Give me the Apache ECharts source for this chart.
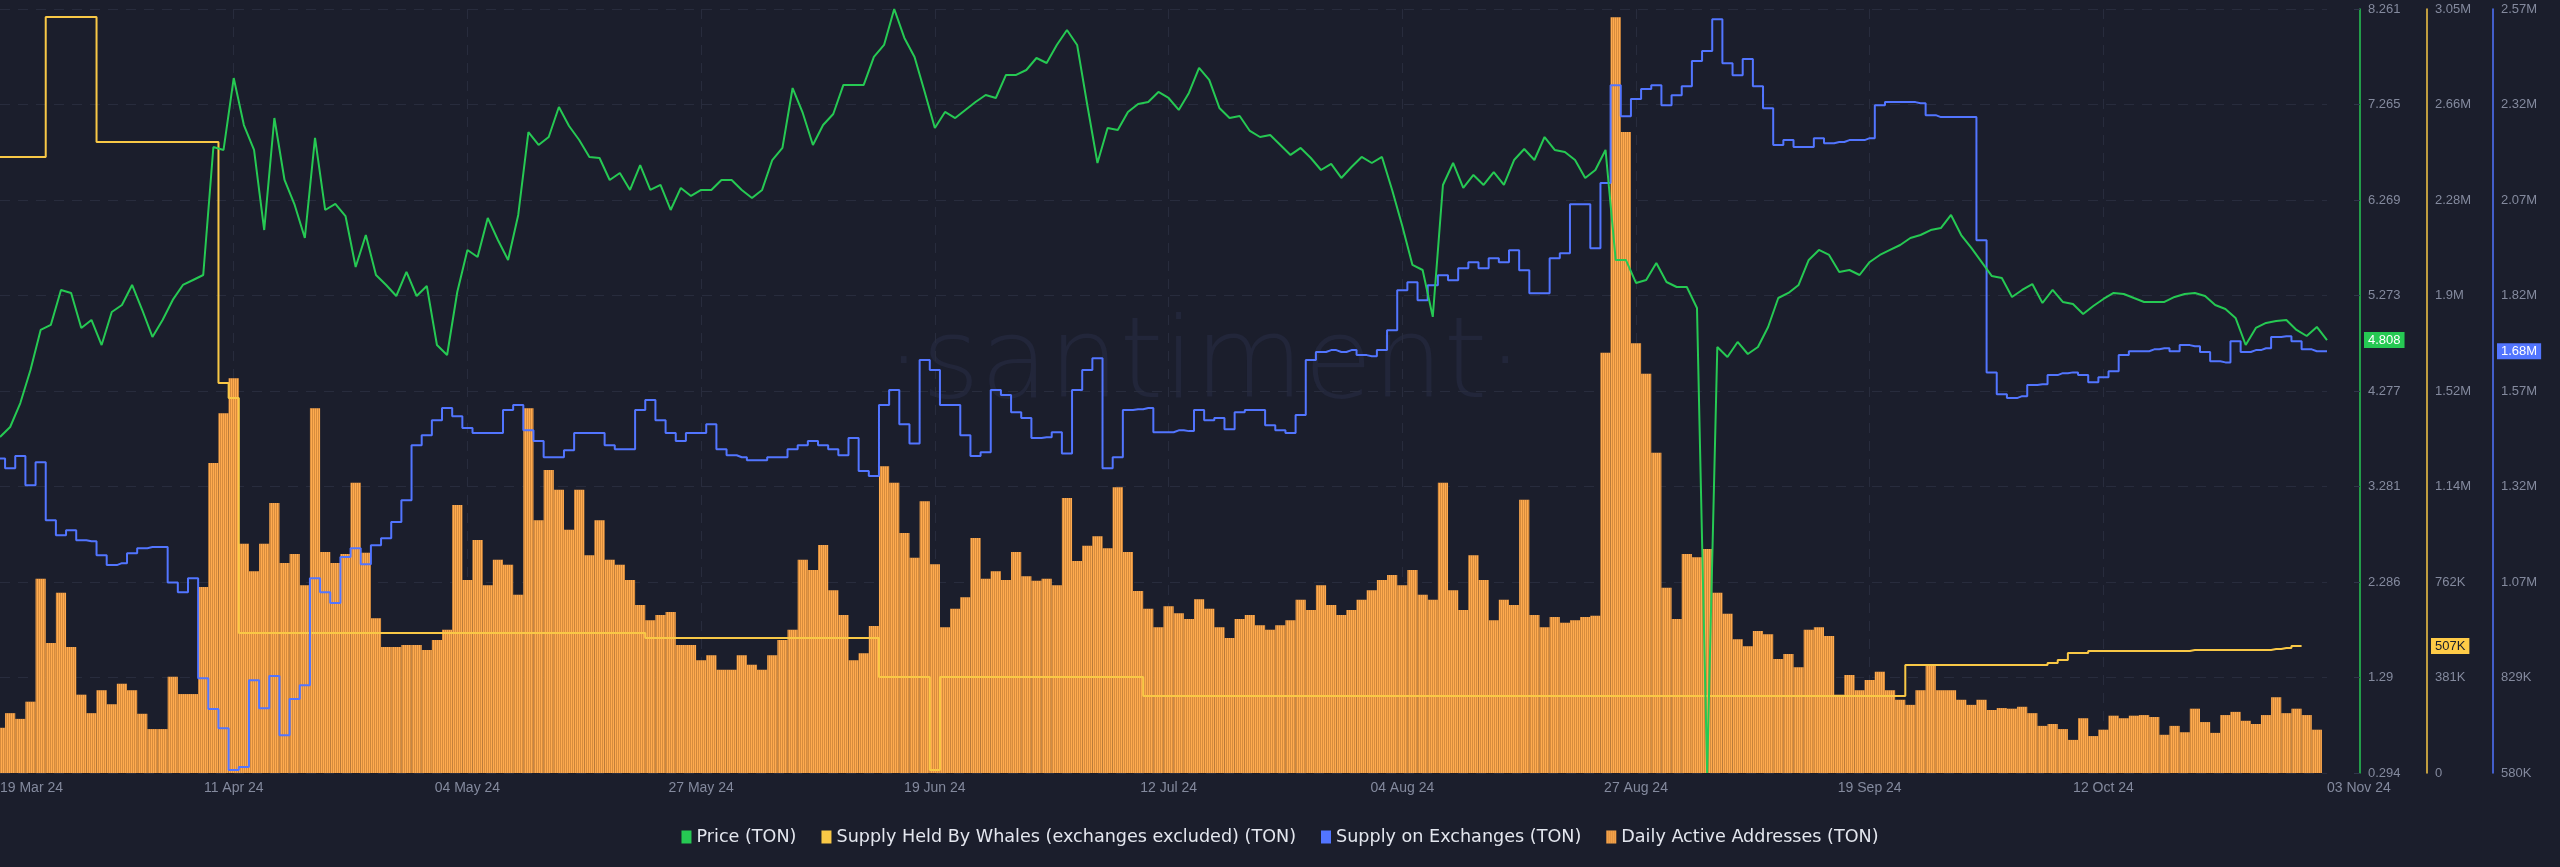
<!DOCTYPE html>
<html><head><meta charset="utf-8">
<script src="https://cdn.jsdelivr.net/npm/echarts@6/dist/echarts.min.js"></script>
<style>html,body{margin:0;padding:0;background:#1b1e2c;}#c{width:2560px;height:867px;}</style>
</head><body><div id="c"></div>
<script>
// ---------- DATA ----------
const startDate = [2024, 2, 19]; // 19 Mar 2024, one category per day
const dayCount = 230;
const xTickLabels = ['19 Mar 24','11 Apr 24','04 May 24','27 May 24','19 Jun 24','12 Jul 24','04 Aug 24','27 Aug 24','19 Sep 24','12 Oct 24','03 Nov 24'];

const priceTON = [
3.798,3.902,4.152,4.497,4.914,4.966,5.331,5.300,4.935,5.018,
4.757,5.101,5.174,5.383,5.122,4.841,5.018,5.227,5.383,5.435,
5.487,6.822,6.791,7.541,7.051,6.791,5.956,7.124,6.478,6.217,
5.873,6.916,6.165,6.228,6.102,5.571,5.904,5.487,5.383,5.268,
5.519,5.268,5.373,4.757,4.653,5.310,5.748,5.675,6.082,5.852,
5.644,6.113,6.978,6.843,6.926,7.239,7.041,6.895,6.718,6.707,
6.478,6.551,6.374,6.634,6.374,6.426,6.165,6.395,6.311,6.374,
6.374,6.478,6.478,6.374,6.290,6.374,6.686,6.812,7.437,7.177,
6.843,7.051,7.166,7.469,7.469,7.469,7.761,7.886,8.261,7.959,
7.761,7.396,7.020,7.187,7.124,7.208,7.291,7.364,7.333,7.573,
7.573,7.625,7.750,7.698,7.886,8.042,7.886,7.260,6.655,7.020,
6.999,7.187,7.270,7.291,7.396,7.333,7.208,7.385,7.646,7.521,
7.229,7.124,7.145,6.989,6.926,6.947,6.843,6.739,6.812,6.707,
6.582,6.645,6.499,6.613,6.718,6.655,6.718,6.374,5.998,5.592,
5.539,5.050,6.426,6.655,6.395,6.530,6.426,6.561,6.426,6.686,
6.801,6.686,6.926,6.791,6.770,6.686,6.499,6.582,6.791,5.644,
5.644,5.404,5.435,5.612,5.414,5.362,5.362,5.143,0.294,4.736,
4.632,4.789,4.663,4.736,4.945,5.247,5.300,5.383,5.644,5.748,
5.696,5.519,5.539,5.487,5.623,5.696,5.748,5.800,5.873,5.904,
5.956,5.977,6.113,5.904,5.769,5.623,5.477,5.456,5.258,5.331,
5.393,5.195,5.331,5.206,5.185,5.081,5.164,5.237,5.300,5.289,
5.247,5.206,5.206,5.206,5.258,5.289,5.300,5.268,5.174,5.133,
5.039,4.757,4.935,4.987,5.008,5.018,4.914,4.851,4.945,4.808];

const whalesSupplyK = [
2459,2459,2459,2459,2459,3018,3018,3018,3018,3018,
2519,2519,2519,2519,2519,2519,2519,2519,2519,2519,
2519,2519,1557,1497,559,559,559,559,559,559,
559,559,559,559,559,559,559,559,559,559,
559,559,559,559,559,559,559,559,559,559,
559,559,559,559,559,559,559,559,559,559,
559,559,559,559,539,539,539,539,539,539,
539,539,539,539,539,539,539,539,539,539,
539,539,539,539,539,539,539,383,383,383,
383,383,12,383,383,383,383,383,383,383,
383,383,383,383,383,383,383,383,383,383,
383,383,383,307,307,307,307,307,307,307,
307,307,307,307,307,307,307,307,307,307,
307,307,307,307,307,307,307,307,307,307,
307,307,307,307,307,307,307,307,307,307,
307,307,307,307,307,307,307,307,307,307,
307,307,307,307,307,307,307,307,307,307,
307,307,307,307,307,307,307,307,307,307,
307,307,307,307,307,307,307,307,431,431,
431,431,431,431,431,431,431,431,431,431,
431,431,439,451,479,479,487,487,487,487,
487,487,487,487,487,487,491,491,491,491,
491,491,491,491,495,499,507,null,null,null];

const exchangeSupplyK = [
1400,1374,1406,1330,1390,1239,1200,1213,1187,1184,
1148,1122,1127,1153,1166,1169,1169,1077,1051,1088,
827,747,697,588,596,822,749,833,679,773,
809,1088,1051,1023,1143,1166,1124,1174,1192,1234,
1291,1434,1460,1499,1531,1510,1479,1466,1466,1466,
1526,1539,1473,1445,1403,1403,1421,1466,1466,1466,
1434,1424,1424,1526,1552,1499,1466,1445,1466,1466,
1489,1424,1408,1403,1395,1395,1403,1403,1424,1434,
1445,1434,1424,1408,1453,1367,1354,1539,1578,1489,
1439,1656,1630,1539,1539,1460,1406,1416,1578,1565,
1520,1505,1453,1455,1468,1413,1578,1630,1661,1374,
1403,1526,1528,1531,1468,1468,1473,1471,1526,1499,
1505,1476,1520,1526,1526,1486,1473,1466,1513,1656,
1677,1682,1677,1682,1669,1666,1682,1734,1838,1859,
1812,1851,1877,1864,1895,1911,1895,1921,1911,1942,
1890,1830,1830,1921,1934,2062,2062,1947,2117,2372,
2291,2336,2362,2372,2320,2346,2369,2435,2461,2544,
2429,2398,2440,2369,2312,2216,2229,2211,2211,2234,
2221,2224,2229,2229,2234,2320,2328,2328,2328,2325,
2294,2289,2289,2289,2289,1968,1624,1567,1557,1562,
1591,1593,1617,1622,1624,1617,1598,1611,1627,1669,
1679,1679,1684,1687,1679,1695,1692,1677,1653,1650,
1705,1677,1682,1687,1716,1718,1705,1684,1679,1679];

const dailyActiveK = [
71,94,85,112,305,204,283,198,123,94,
130,108,140,130,93,69,69,151,124,124,
292,487,565,620,360,317,360,424,330,344,
295,573,347,330,344,456,346,243,198,198,
201,201,193,209,225,421,303,366,295,335,
327,280,573,397,476,445,382,445,342,397,
335,327,303,264,240,248,253,201,201,177,
185,162,162,185,170,162,185,209,225,335,
319,358,287,248,177,188,231,482,456,377,
338,427,328,229,258,276,369,305,317,303,
347,309,302,305,295,432,333,357,372,353,
449,347,286,258,229,262,251,242,273,258,
229,212,242,248,232,225,232,240,272,256,
295,264,248,256,272,287,303,311,295,319,
280,272,456,287,256,342,303,240,272,264,
429,248,229,245,236,240,245,247,660,1187,
1007,675,627,503,291,242,344,339,352,283,
250,210,199,223,218,179,187,166,225,229,
215,123,154,130,146,159,130,115,107,130,
170,130,130,115,107,115,99,102,101,104,
94,74,77,69,52,86,58,68,90,86,
90,91,88,60,74,64,101,80,63,91,
96,82,77,91,119,94,101,91,68,null];

// axis ranges (values)
const priceRange = [0.2938, 8.2609];
const whalesRangeK = [0, 3050];
const exchangeRangeK = [580.5, 2570.5];
const activeRangeK = [0, 1200];

// ---------- BUILD ----------
const MONTHS = ['Jan','Feb','Mar','Apr','May','Jun','Jul','Aug','Sep','Oct','Nov','Dec'];
const dates = [];
for (let i = 0; i < dayCount; i++) {
  const d = new Date(Date.UTC(startDate[0], startDate[1], startDate[2] + i));
  dates.push(String(d.getUTCDate()).padStart(2,'0') + ' ' + MONTHS[d.getUTCMonth()] + ' ' + String(d.getUTCFullYear()).slice(2));
}
function ticks(r, n) { const out = []; for (let k = 0; k <= n; k++) out.push(r[0] + (r[1]-r[0]) * k / n); return out; }
function fmtK(v) {
  if (v >= 1000) return (Math.floor(v / 10 + 1e-9) / 100) + 'M';
  if (v <= 0) return '0';
  return Math.floor(v + 1e-9) + 'K';
}
const GREEN = '#26c953', YELLOW = '#f9c846', BLUE = '#5275ff', ORANGE = '#ffab4f';
const LABEL = '#848a9e', GRID = '#282c3d';
const FONT = 'Liberation Sans';
const gridRight = 233;
const axisOffsets = [33, 100, 166];

function yAxisCfg(range, n, offset, color, formatter, split) {
  const tv = ticks(range, n);
  return {
    type: 'value', position: 'right', offset, min: range[0], max: range[1],
    axisLine: { show: true, lineStyle: { color, width: 1.5 } },
    axisTick: { show: split, inside: true, length: 6, customValues: tv, lineStyle: { color: '#30354a' } },
    axisLabel: { color: LABEL, fontSize: 13, fontFamily: FONT, margin: 8, customValues: tv, formatter },
    splitLine: { show: split, lineStyle: { color: GRID, type: [10, 8] } }
  };
}

const chart = echarts.init(document.getElementById('c'), null, { renderer: 'canvas' });
const option = {
  backgroundColor: '#1b1e2c',
  animation: false,
  grid: { left: 0, right: gridRight, top: 9, bottom: 94, outerBoundsMode: 'none', containLabel: false },
  legend: {
    top: 823, left: 'center', itemWidth: 10, itemHeight: 13, itemGap: 25, icon: 'rect',
    textStyle: { color: '#e3e6ee', fontSize: 17.6, fontFamily: 'DejaVu Sans' },
    data: ['Price (TON)', 'Supply Held By Whales (exchanges excluded) (TON)', 'Supply on Exchanges (TON)', 'Daily Active Addresses (TON)']
  },
  xAxis: {
    type: 'category', data: dates, boundaryGap: false,
    axisLine: { show: false }, axisTick: { show: false },
    axisLabel: {
      interval: (i, v) => xTickLabels.includes(v),
      color: LABEL, fontSize: 14, fontFamily: FONT, margin: 8,
      alignMinLabel: 'left', alignMaxLabel: 'left', showMinLabel: true, showMaxLabel: true
    },
    splitLine: { show: true, interval: (i, v) => xTickLabels.includes(v) && i > 0 && i < dayCount - 1, lineStyle: { color: GRID, type: [10, 8] } }
  },
  yAxis: [
    yAxisCfg(priceRange, 8, axisOffsets[0], GREEN, v => String(+v.toFixed(3)), true),
    yAxisCfg(whalesRangeK, 8, axisOffsets[1], YELLOW, fmtK, false),
    yAxisCfg(exchangeRangeK, 8, axisOffsets[2], BLUE, fmtK, false),
    { type: 'value', show: false, min: activeRangeK[0], max: activeRangeK[1], splitLine: { show: false } }
  ],
  graphic: [{
    type: 'text', left: 1216 - 330, top: 312, silent: true, z: 0,
    style: { text: '\u00b7santiment\u00b7', fill: '#22263a', font: '300 112px "DejaVu Sans"' }
  }],
  series: [
    { name: 'Price (TON)', type: 'line', data: priceTON, yAxisIndex: 0, showSymbol: false, symbol: 'none',
      lineStyle: { width: 2, color: GREEN }, itemStyle: { color: GREEN }, z: 6 },
    { name: 'Supply Held By Whales (exchanges excluded) (TON)', type: 'line', step: 'middle', data: whalesSupplyK, yAxisIndex: 1,
      showSymbol: false, symbol: 'none', lineStyle: { width: 2, color: YELLOW }, itemStyle: { color: YELLOW }, z: 4 },
    { name: 'Supply on Exchanges (TON)', type: 'line', step: 'middle', data: exchangeSupplyK, yAxisIndex: 2,
      showSymbol: false, symbol: 'none', lineStyle: { width: 2, color: BLUE }, itemStyle: { color: BLUE }, z: 5 },
    { name: 'Daily Active Addresses (TON)', type: 'bar', data: dailyActiveK, yAxisIndex: 3, barCategoryGap: '0%', barGap: '0%',
      itemStyle: { color: ORANGE, decal: { symbol: 'rect', symbolSize: 1, symbolKeepAspect: false, dashArrayX: [1, 1], dashArrayY: [4, 0], color: 'rgba(110,60,15,0.28)' } }, z: 2 }
  ]
};
chart.setOption(option);

// last-value badges on the right axes
const gridRightX = 2560 - gridRight;
function lastVal(arr) { for (let i = arr.length - 1; i >= 0; i--) if (arr[i] != null) return arr[i]; return null; }
const badges = [
  { axis: 0, value: lastVal(priceTON), text: lastVal(priceTON).toFixed(3), bg: GREEN, fg: '#ffffff', off: axisOffsets[0] },
  { axis: 1, value: lastVal(whalesSupplyK), text: Math.round(lastVal(whalesSupplyK)) + 'K', bg: '#ffcb47', fg: '#1b1e2c', off: axisOffsets[1] },
  { axis: 2, value: lastVal(exchangeSupplyK), text: (lastVal(exchangeSupplyK) / 1000).toFixed(2) + 'M', bg: BLUE, fg: '#ffffff', off: axisOffsets[2] }
];
const extra = badges.map(b => {
  const y = chart.convertToPixel({ yAxisIndex: b.axis }, b.value);
  return {
    type: 'text', x: gridRightX + b.off + 4, y: y, z: 50, silent: true,
    style: { text: b.text, fill: b.fg, backgroundColor: b.bg, padding: [2, 4, 1, 4], font: '13px "Liberation Sans"', verticalAlign: 'middle', align: 'left' }
  };
});
chart.setOption({ graphic: option.graphic.concat(extra) });
</script></body></html>
